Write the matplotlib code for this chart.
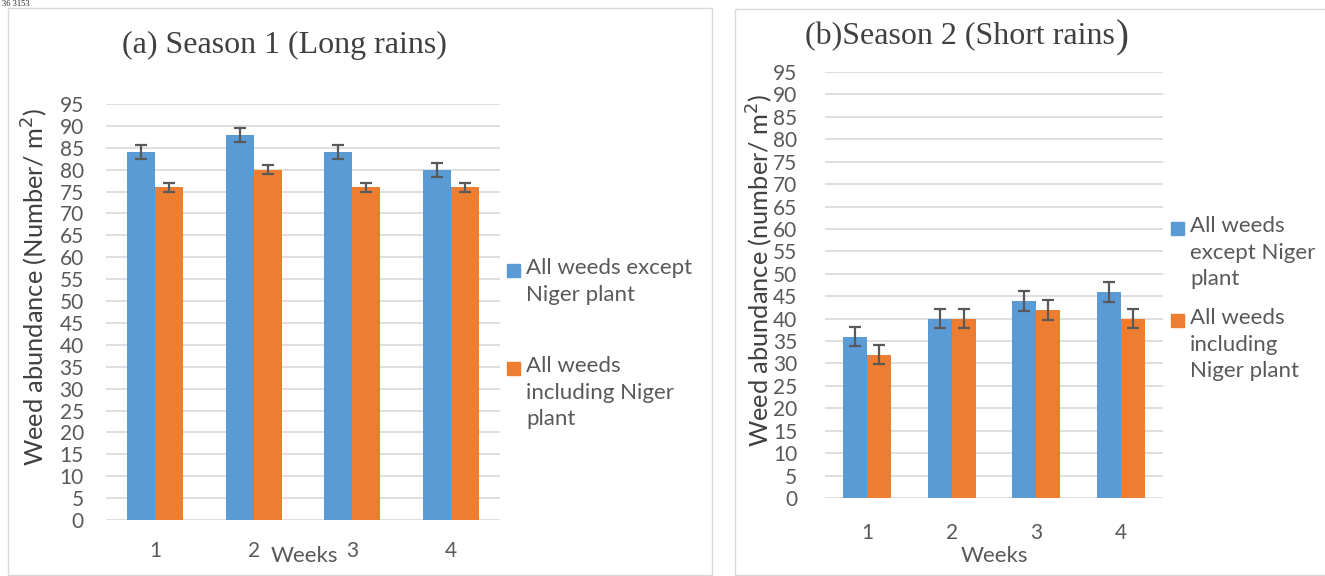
import numpy as np
import matplotlib.pyplot as plt
from matplotlib.patches import Rectangle

weeks = ['1', '2', '3', '4']
# season 1 (long rains)
s1_except = [84, 88, 84, 80]
s1_except_err = [1.6, 1.6, 1.6, 1.6]
s1_incl = [76, 80, 76, 76]
s1_incl_err = [1.0, 1.0, 1.0, 1.0]
# season 2 (short rains)
s2_except = [36, 40, 44, 46]
s2_except_err = [2.2, 2.2, 2.2, 2.2]
s2_incl = [32, 40, 42, 40]
s2_incl_err = [2.2, 2.2, 2.2, 2.2]

blue = '#5B9BD5'
orange = '#ED7D31'
grey = '#595959'
sans = ['Lato', 'DejaVu Sans']
serif = ['Liberation Serif', 'DejaVu Serif']

W, H = 1325, 576
fig = plt.figure(figsize=(W / 100, H / 100), dpi=100)

def px(x0, y0, x1, y1):
    # pixel box -> figure fraction [left, bottom, width, height]
    return [x0 / W, 1 - y1 / H, (x1 - x0) / W, (y1 - y0) / H]

# panel borders
fig.patches.append(Rectangle((8 / W, 1 - 575 / H), 704 / W, 567 / H, transform=fig.transFigure,
                             fill=False, ec='#D9D9D9', lw=1))
fig.patches.append(Rectangle((735 / W, 1 - 575 / H), 600 / W, 566 / H, transform=fig.transFigure,
                             fill=False, ec='#D9D9D9', lw=1))
fig.text(2 / W, 1.0, '36 3153', fontsize=6, family=serif, va='top', ha='left', color='#222222')

def draw(ax, a, a_err, b, b_err, bw):
    x = np.arange(len(weeks))
    ekw = dict(ecolor=grey, elinewidth=1.6, capsize=4.5, capthick=1.6)
    ax.bar(x - bw / 2, a, bw, yerr=a_err, color=blue, error_kw=ekw, zorder=3)
    ax.bar(x + bw / 2, b, bw, yerr=b_err, color=orange, error_kw=ekw, zorder=3)
    ax.set_xlim(-0.5, len(weeks) - 0.5)
    ax.set_ylim(0, 95)
    ax.set_yticks(np.arange(0, 96, 5))
    ax.set_xticks(x)
    ax.set_xticklabels(weeks)
    ax.grid(axis='y', color='#D9D9D9', lw=1.2, zorder=0)
    for s in ax.spines.values():
        s.set_visible(False)
    ax.tick_params(length=0, labelsize=15, labelcolor=grey)
    for t in ax.get_xticklabels() + ax.get_yticklabels():
        t.set_family(sans)

def legend_entry(x, y, color, label):
    fig.patches.append(Rectangle(((x) / W, 1 - (y + 7) / H), 13 / W, 13 / H,
                                 transform=fig.transFigure, color=color))
    fig.text((x + 19) / W, 1 - (y - 12) / H, label, family=sans, fontsize=16,
             color=grey, ha='left', va='top', linespacing=1.42)

# (a) season 1
ax1 = fig.add_axes(px(106, 104, 500, 520))
draw(ax1, s1_except, s1_except_err, s1_incl, s1_incl_err, 0.284)
ax1.tick_params(axis='x', pad=15)
ax1.tick_params(axis='y', pad=16)
fig.text(284 / W, 1 - 45 / H, '(a) Season 1 (Long rains)', family=serif, fontsize=23,
         color='#404040', ha='center', va='center')
fig.text(35 / W, 1 - 287 / H, 'Weed abundance (Number/ m$^2$)', family=sans, fontsize=18.3,
         color='#404040', rotation=90, ha='center', va='center')
fig.text(304 / W, 1 - 556 / H, 'Weeks', family=sans, fontsize=16, color=grey,
         ha='center', va='center')
legend_entry(507, 270, blue, 'All weeds except\nNiger plant')
legend_entry(507, 368, orange, 'All weeds\nincluding Niger\nplant')

# (b) season 2
ax2 = fig.add_axes(px(825, 72, 1163, 498))
draw(ax2, s2_except, s2_except_err, s2_incl, s2_incl_err, 0.283)
ax2.tick_params(axis='x', pad=18)
ax2.tick_params(axis='y', pad=20)
t2 = fig.text(805 / W, 1 - 37 / H, '(b)Season 2 (Short rains', family=serif, fontsize=23,
              color='#404040', ha='left', va='center')
fig.canvas.draw()
bb = t2.get_window_extent()
fig.text(bb.x1 / W + 1 / W, 1 - 38 / H, ')', family=serif, fontsize=28,
         color='#404040', ha='left', va='center')
fig.text(760 / W, 1 - 270 / H, 'Weed abundance (number/ m$^2$)', family=sans, fontsize=18.3,
         color='#404040', rotation=90, ha='center', va='center')
fig.text(994 / W, 1 - 556 / H, 'Weeks', family=sans, fontsize=16, color=grey,
         ha='center', va='center')
legend_entry(1171, 228, blue, 'All weeds\nexcept Niger\nplant')
legend_entry(1171, 320, orange, 'All weeds\nincluding\nNiger plant')

fig.savefig('out.png', dpi=100)
